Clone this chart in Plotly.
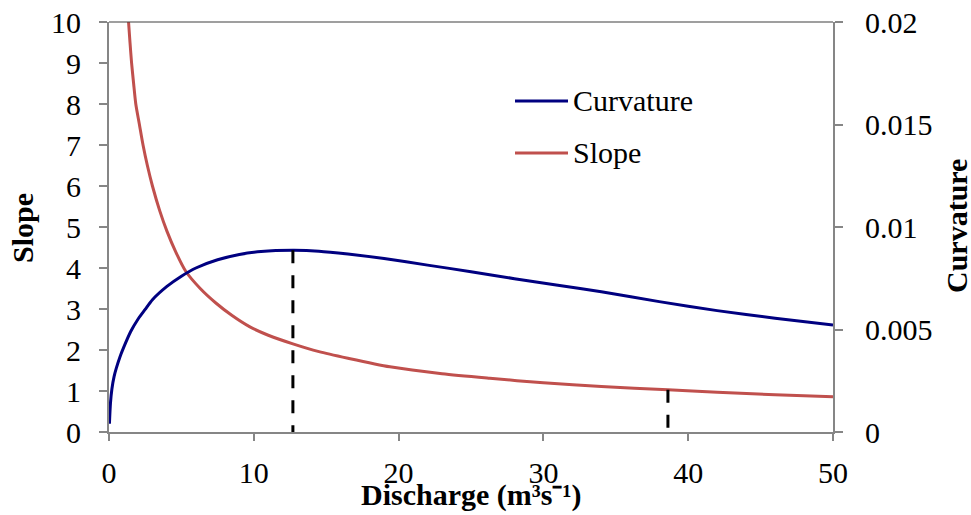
import plotly.graph_objects as go

# Discharge (m3/s) and channel slope
slope_q = [1.35, 1.45, 1.56, 1.7, 1.85, 2.1, 2.35, 2.65, 3.0, 3.5, 4.0, 4.6,
           5.3, 6.3, 7.4, 8.5, 9.7, 11.0, 12.7, 14.5, 16.5, 19.4, 23.0, 26.3,
           30.0, 34.0, 38.6, 42.0, 46.0, 50.0]
slope_vals = [10.0, 9.5, 9.0, 8.5, 8.0, 7.5, 7.0, 6.5, 6.0, 5.4, 4.9, 4.4,
              3.92, 3.5, 3.14, 2.84, 2.57, 2.36, 2.15, 1.96, 1.8, 1.59, 1.42, 1.31,
              1.2, 1.11, 1.03, 0.97, 0.91, 0.86]

# Discharge (m3/s) and curvature
curv_q = [0.03, 0.1, 0.2, 0.35, 0.5, 0.75, 1.0, 1.5, 2.0, 2.5, 3.0, 4.0, 5.0,
          6.0, 7.5, 9.0, 10.5, 12.7, 14.5, 16.5, 19.0, 22.0, 25.0, 28.0, 31.0,
          34.0, 38.0, 42.0, 46.0, 50.0]
curv_vals = [0.0004, 0.0014, 0.0021, 0.0027, 0.0031, 0.00365, 0.0041, 0.0049,
             0.0055, 0.00598, 0.00645, 0.0071, 0.0076, 0.0080, 0.0084, 0.00866,
             0.0088, 0.00886, 0.00882, 0.00868, 0.00846, 0.00814, 0.00782,
             0.00748, 0.00716, 0.00684, 0.00636, 0.00592, 0.00555, 0.00522]

# Reference discharges marked with dashed drop lines
peak_q = 12.7
peak_curv = 0.00886
ref_q = 38.6
ref_slope = 1.03

x_ticks = [0, 10, 20, 30, 40, 50]
slope_ticks = list(range(0, 11))
curv_ticks = [0, 0.005, 0.01, 0.015, 0.02]

FONT = "Liberation Serif"
AXIS_GREY = "#868686"
NAVY = "#000080"
RED = "#C0504D"
FS = 30

# plot-area geometry in pixels (used to place the hand-drawn legend/titles)
W, H = 971, 515
ML, MR, MT, MB = 109, 138, 22, 83
PW, PH = W - ML - MR, H - MT - MB


def px_x(x):
    return (x - ML) / PW


def px_y(y):
    return (H - MB - y) / PH


fig = go.Figure()

fig.add_trace(go.Scatter(
    x=curv_q, y=curv_vals, yaxis="y2", mode="lines", name="Curvature",
    line=dict(color=NAVY, width=3, shape="spline", smoothing=0.7),
    showlegend=False,
))
fig.add_trace(go.Scatter(
    x=slope_q, y=slope_vals, mode="lines", name="Slope",
    line=dict(color=RED, width=3, shape="spline", smoothing=0.7),
    showlegend=False,
))

# dashed drop lines, drawn top-down
fig.add_trace(go.Scatter(
    x=[peak_q, peak_q], y=[peak_curv, 0], yaxis="y2", mode="lines",
    line=dict(color="black", width=3, dash="13px,12px"), showlegend=False,
    hoverinfo="skip",
))
fig.add_trace(go.Scatter(
    x=[ref_q, ref_q], y=[ref_slope, 0], mode="lines",
    line=dict(color="black", width=3, dash="13px,12px"), showlegend=False,
    hoverinfo="skip",
))

tick_font = dict(family=FONT, size=FS, color="black")
axis_common = dict(
    showgrid=False, zeroline=False, showline=True, linecolor=AXIS_GREY,
    linewidth=2, ticks="outside", tickcolor=AXIS_GREY, tickwidth=2,
    tickfont=tick_font, automargin=False,
)

# legend: short coloured line followed by its label
legend_items = [("Curvature", NAVY, 101), ("Slope", RED, 153)]
shapes = [
    dict(type="line", xref="paper", yref="paper", x0=0, x1=1, y0=1, y1=1,
         line=dict(color="#404040", width=1.2)),
]
annotations = []
for label, color, ypix in legend_items:
    shapes.append(dict(type="line", xref="paper", yref="paper",
                       x0=px_x(515), x1=px_x(568), y0=px_y(ypix), y1=px_y(ypix),
                       line=dict(color=color, width=3)))
    annotations.append(dict(text=label, xref="paper", yref="paper",
                            x=px_x(571), y=px_y(ypix), xanchor="left",
                            yanchor="middle", showarrow=False,
                            font=dict(family=FONT, size=FS, color="black")))

annotations += [
    dict(text="<b>Slope</b>", xref="paper", yref="paper", x=px_x(22), y=px_y(228),
         xanchor="center", yanchor="middle", textangle=-90, showarrow=False,
         font=dict(family=FONT, size=FS, color="black")),
    dict(text="<b>Curvature</b>", xref="paper", yref="paper", x=px_x(956),
         y=px_y(226), xanchor="center", yanchor="middle", textangle=-90,
         showarrow=False, font=dict(family=FONT, size=FS, color="black")),
    dict(text="<b>Discharge (m³s⁻¹)</b>", xref="paper",
         yref="paper", x=px_x(471), y=px_y(476), xanchor="center",
         yanchor="top", showarrow=False,
         font=dict(family=FONT, size=FS, color="black")),
]

fig.update_layout(
    width=W, height=H,
    margin=dict(l=ML, r=MR, t=MT, b=MB),
    paper_bgcolor="white", plot_bgcolor="white",
    font=dict(family=FONT, color="black"),
    xaxis=dict(range=[0, 50], tickvals=x_ticks, ticklen=7,
               ticklabelstandoff=6, **axis_common),
    yaxis=dict(range=[0, 10], tickvals=slope_ticks, ticklen=8,
               ticklabelstandoff=12, **axis_common),
    yaxis2=dict(range=[0, 0.02], tickvals=curv_ticks, overlaying="y",
                side="right", ticklen=8, ticklabelstandoff=16, **axis_common),
    showlegend=False,
    shapes=shapes,
    annotations=annotations,
)

fig.write_html("out.html")
